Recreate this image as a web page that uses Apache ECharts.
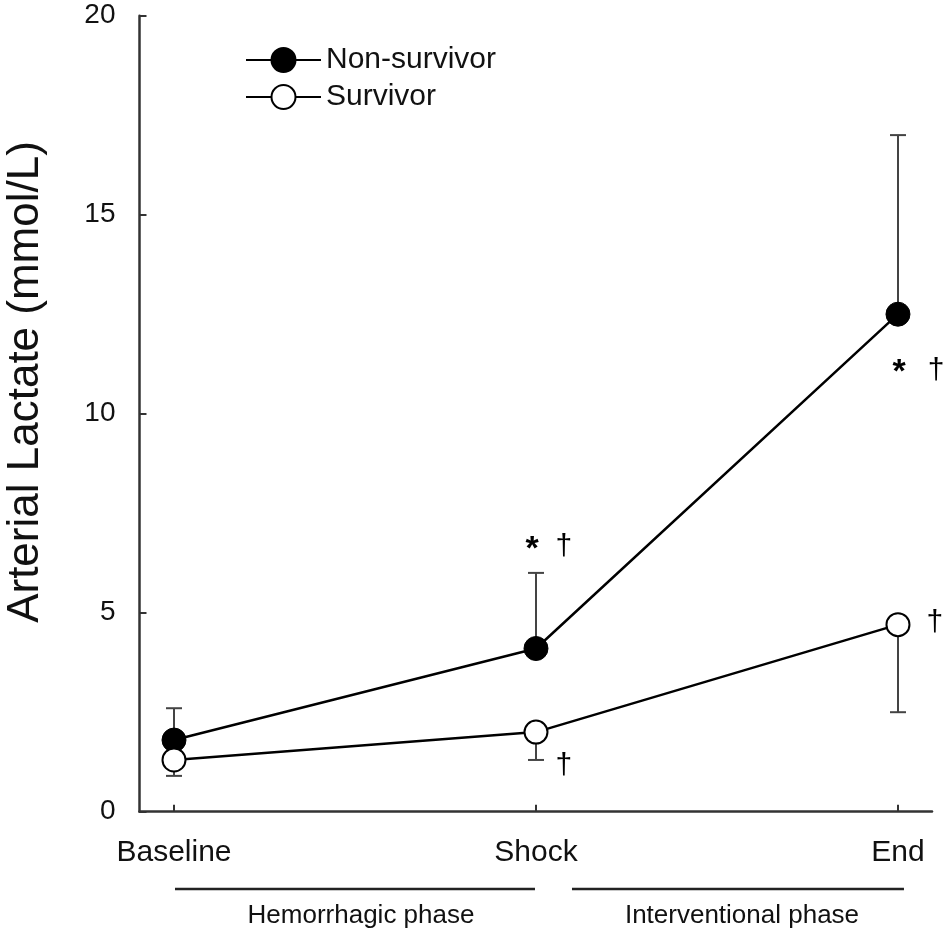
<!DOCTYPE html>
<html>
<head>
<meta charset="utf-8">
<script src="https://cdn.jsdelivr.net/npm/echarts@6/dist/echarts.min.js"></script>
<style>html,body{margin:0;padding:0;background:#fff}#c{width:945px;height:947px}</style>
</head>
<body>
<div id="c"></div>
<script>
// ---- data ----
var categories = ['Baseline', 'Shock', 'End'];
var nonSurvivorMean = [1.8, 4.1, 12.5];
var nonSurvivorSD = [0.8, 1.9, 4.5];      // drawn upward
var survivorMean = [1.3, 2.0, 4.7];
var survivorSD = [0.4, 0.7, 2.2];         // drawn downward
var yTicks = [0, 5, 10, 15, 20];
var phases = ['Hemorrhagic phase', 'Interventional phase'];
// significance marks: [x (category units), y (mmol/L), text]
var marks = [
  [0.989, 6.58, '*'], [1.077, 6.65, '\u2020'],
  [2.003, 11.02, '*'], [2.105, 11.07, '\u2020'],
  [1.077, 1.15, '\u2020'],
  [2.102, 4.74, '\u2020']
];

var FONT = '"Liberation Sans", Arial, sans-serif';
var chart = echarts.init(document.getElementById('c'));

function pts(arr) { return arr.map(function (v, i) { return [i, v]; }); }
var errData = [];
nonSurvivorMean.forEach(function (m, i) { errData.push([i, m, m + nonSurvivorSD[i]]); });
survivorMean.forEach(function (m, i) { errData.push([i, m, m - survivorSD[i]]); });

var option = {
  animation: false,
  backgroundColor: '#fff',
  grid: { left: 139.5, right: 13, top: 15.7, bottom: 135.3 },
  legend: {
    orient: 'vertical', left: 240, top: 40, itemWidth: 75, itemHeight: 30, itemGap: 7,
    textStyle: { fontFamily: FONT, fontSize: 30, color: '#111' },
    data: ['Non-survivor', 'Survivor']
  },
  xAxis: {
    type: 'value', min: -0.0953, max: 2.094,
    splitLine: { show: false },
    axisLine: { onZero: false, lineStyle: { color: '#333', width: 2.5 } },
    axisTick: { inside: true, length: 7, customValues: [0, 1, 2], lineStyle: { color: '#333', width: 2 } },
    axisLabel: {
      customValues: [0, 1, 2], margin: 26,
      fontFamily: FONT, fontSize: 30, color: '#111',
      formatter: function (v) { return categories[Math.round(v)]; }
    }
  },
  yAxis: {
    type: 'value', min: 0, max: 20, interval: 5,
    splitLine: { show: false },
    axisLine: { show: true, onZero: false, lineStyle: { color: '#333', width: 2.5 } },
    axisTick: { show: true, inside: true, length: 7, customValues: yTicks, lineStyle: { color: '#333', width: 2 } },
    axisLabel: { margin: 24, fontFamily: FONT, fontSize: 28, color: '#111' }
  },
  series: [
    {
      type: 'custom', z: 1, silent: true,
      data: errData,
      renderItem: function (params, api) {
        var p0 = api.coord([api.value(0), api.value(1)]);
        var p1 = api.coord([api.value(0), api.value(2)]);
        var st = { stroke: '#444', lineWidth: 2 };
        return {
          type: 'group', children: [
            { type: 'line', shape: { x1: p0[0], y1: p0[1], x2: p1[0], y2: p1[1] }, style: st },
            { type: 'line', shape: { x1: p1[0] - 8, y1: p1[1], x2: p1[0] + 8, y2: p1[1] }, style: st }
          ]
        };
      }
    },
    {
      name: 'Non-survivor', type: 'line', z: 3, data: pts(nonSurvivorMean),
      symbol: 'circle', symbolSize: 24,
      lineStyle: { color: '#000', width: 2.5 },
      itemStyle: { color: '#000', borderColor: '#000', borderWidth: 1 }
    },
    {
      name: 'Survivor', type: 'line', z: 3, data: pts(survivorMean),
      symbol: 'circle', symbolSize: 23,
      lineStyle: { color: '#000', width: 2.5 },
      itemStyle: { color: '#fff', borderColor: '#000', borderWidth: 2 }
    }
  ]
};
chart.setOption(option);

// annotations placed through the chart's own scales
var g = [];
marks.forEach(function (m) {
  var p = chart.convertToPixel({ gridIndex: 0 }, [m[0], m[1]]);
  g.push({
    type: 'text', x: p[0], y: p[1],
    style: { text: m[2], fontFamily: FONT, fontSize: m[2] === '*' ? 34 : 30, fontWeight: m[2] === '*' ? 'bold' : 'normal',
      fill: '#000', align: 'center', verticalAlign: 'middle' }
  });
});
// phase underlines between category positions
var pB = chart.convertToPixel({ gridIndex: 0 }, [0, 0]);
var pS = chart.convertToPixel({ gridIndex: 0 }, [1, 0]);
var pE = chart.convertToPixel({ gridIndex: 0 }, [2, 0]);
var lineY = 889;
g.push({ type: 'line', shape: { x1: pB[0] + 1, y1: lineY, x2: pS[0] - 1, y2: lineY }, style: { stroke: '#222', lineWidth: 2.5 } });
g.push({ type: 'line', shape: { x1: pS[0] + 36, y1: lineY, x2: pE[0] + 6, y2: lineY }, style: { stroke: '#222', lineWidth: 2.5 } });
g.push({ type: 'text', x: 361, y: 916, style: { text: phases[0], fontFamily: FONT, fontSize: 26, fill: '#111', align: 'center', verticalAlign: 'middle' } });
g.push({ type: 'text', x: 742, y: 916, style: { text: phases[1], fontFamily: FONT, fontSize: 26, fill: '#111', align: 'center', verticalAlign: 'middle' } });
// y-axis title
g.push({ type: 'text', x: 26, y: 382, rotation: Math.PI / 2,
  style: { text: 'Arterial Lactate (mmol/L)', fontFamily: FONT, fontSize: 44, fill: '#111', align: 'center', verticalAlign: 'middle' } });
chart.setOption({ graphic: g });
</script>
</body>
</html>
